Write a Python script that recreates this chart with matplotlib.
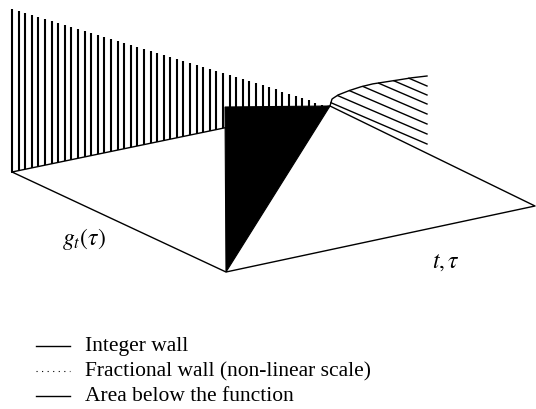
import numpy as np
import matplotlib.pyplot as plt
from matplotlib.patches import Polygon

plt.rcParams['font.family'] = ['Liberation Serif', 'DejaVu Serif']
plt.rcParams['mathtext.fontset'] = 'stix'

# floor corners (picture coordinates, y grows downward)
floor_left = (12, 173)
floor_bottom = (226, 273)
floor_right = (535, 207)
peak = (330, 107)

# integer wall: top edge of the vertical hatching
wall_top_x = [12, 226, 300, 322]
wall_top_y = [10, 75, 98, 106]
n_wall_lines = 48

# area below the function (black)
area_x = [225, 226, 330]
area_y = [108, 273, 107]

# fractional wall: upper curve and hatch lines
curve_x = [330, 332, 338, 348, 360, 372, 392, 410, 427]
curve_y = [107, 100, 96, 92, 88, 85, 82, 79, 77]
hatch_end_x = 427
hatch_end_y = [145, 135, 125, 115, 105, 96, 87]
hatch_slope = 0.43

labels = ['Integer wall', 'Fractional wall (non-linear scale)', 'Area below the function']
styles = ['-', ':', '-']
legend_y = [347, 372, 397]

fig = plt.figure(figsize=(5.36, 4.10), dpi=100)
ax = fig.add_axes([0, 0, 1, 1])
ax.set_xlim(0, 536)
ax.set_ylim(410, 0)
ax.axis('off')

# vertical lines of the integer wall
xs = np.linspace(floor_left[0], wall_top_x[-1], n_wall_lines)
back_y = np.interp(xs, [floor_left[0], peak[0]], [floor_left[1], peak[1]])
top_y = np.interp(xs, wall_top_x, wall_top_y)
ax.vlines(xs, top_y, back_y, color='black', lw=1.5)

# floor
ax.plot([floor_left[0], floor_bottom[0], floor_right[0], peak[0], floor_left[0]],
        [floor_left[1], floor_bottom[1], floor_right[1], peak[1], floor_left[1]],
        color='black', lw=1.0)

# black area
ax.add_patch(Polygon(list(zip(area_x, area_y)), closed=True, facecolor='black',
                     edgecolor='black', lw=0.8, zorder=3))

# fractional wall
cx = np.linspace(curve_x[0], curve_x[-1], 200)
cy = np.interp(cx, curve_x, curve_y)
ax.plot(cx, cy, color='black', lw=1.0)
for ye in hatch_end_y:
    line_y = ye + hatch_slope * (cx - hatch_end_x)
    inside = line_y >= cy
    x0 = cx[np.argmax(inside)]
    ax.plot([x0, hatch_end_x], [ye + hatch_slope * (x0 - hatch_end_x), ye],
            color='black', lw=1.0)

# axis labels
ax.text(84, 239, r'$g_t(\tau)$', fontsize=17, ha='center', va='center')
ax.text(446, 263, r'$t,\tau$', fontsize=17, ha='center', va='center')

# legend
for lab, ls, y in zip(labels, styles, legend_y):
    if ls == ':':
        ax.plot([36, 70], [y, y], color='black', lw=0.8, ls=(0, (1, 4)))
    else:
        ax.plot([36, 70], [y, y], color='black', lw=1.0)
    ax.text(85, y, lab, fontsize=15.5, ha='left', va='center')

fig.savefig('out.png', dpi=100)
